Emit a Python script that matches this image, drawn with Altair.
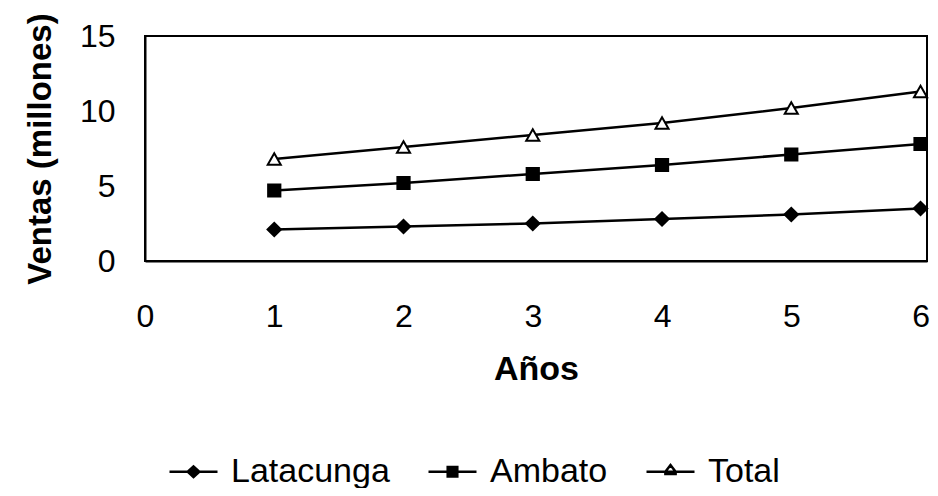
import altair as alt
import pandas as pd

years = [1, 2, 3, 4, 5, 6]
latacunga = [2.1, 2.3, 2.5, 2.8, 3.1, 3.5]
ambato = [4.7, 5.2, 5.8, 6.4, 7.1, 7.8]
total = [6.8, 7.6, 8.4, 9.2, 10.2, 11.3]
series = ["Latacunga", "Ambato", "Total"]
x_ticks = [0, 1, 2, 3, 4, 5, 6]
y_ticks = [0, 5, 10, 15]

rows = []
for name, vals in zip(series, [latacunga, ambato, total]):
    for a, v in zip(years, vals):
        rows.append({"Año": a, "Ventas": v, "Serie": name})
df = pd.DataFrame(rows)

FONT = "Liberation Sans"

x = alt.X("Año:Q", title="Años",
          scale=alt.Scale(domain=[0, 6.05], nice=False, zero=False),
          axis=alt.Axis(values=x_ticks, grid=False, ticks=False,
                        labelPadding=40, labelFontSize=32, labelFont=FONT,
                        labelColor="black", domainColor="black", domainWidth=2,
                        titleFont=FONT, titleFontSize=34, titleFontWeight="bold",
                        titlePadding=20, titleColor="black", labelFlush=False,
                        labelOverlap=False))
y = alt.Y("Ventas:Q", title="Ventas (millones)",
          scale=alt.Scale(domain=[0, 15], nice=False),
          axis=alt.Axis(values=y_ticks, grid=False, ticks=False,
                        labelPadding=30, labelFontSize=32, labelFont=FONT,
                        labelColor="black", domainColor="black", domainWidth=2,
                        titleFont=FONT, titleFontSize=33, titleFontWeight="bold",
                        titlePadding=22, titleColor="black", labelFlush=False))

lines = alt.Chart(df).mark_line(color="black", strokeWidth=2.5).encode(
    x=x, y=y, detail="Serie:N")

shape_std = {"Latacunga": ("diamond", "black", 180),
             "Ambato": ("square", "black", 150),
             "Total": ("triangle-up", "white", 170)}
point_layers = []
for name in series:
    shp, fillc, sz = shape_std[name]
    point_layers.append(
        alt.Chart(df).transform_filter(alt.datum.Serie == name)
        .mark_point(shape=shp, filled=True, fill=fillc, stroke="black",
                    strokeWidth=2, size=sz, opacity=1)
        .encode(x=x, y=y)
    )

# legend-only layer: symbols are line + marker paths
legend_paths = [
    "M-1.5,0H-0.36L0,-0.33L0.36,0H1.5M0.36,0L0,0.33L-0.36,0Z",
    "M-1.5,0H-0.3V-0.3H0.3V0H1.5M0.3,0V0.3H-0.3V0Z",
    "M-1.5,0H-0.32L0,-0.42L0.32,0H1.5M0.32,0V0.14H-0.32V0Z",
]
legend_props = dict(
    title=None, orient="none", direction="horizontal",
    legendX=31, legendY=418,
    labelFont=FONT, labelFontSize=34, labelColor="black", labelLimit=400,
    symbolSize=1024, symbolStrokeWidth=2.5, symbolOpacity=1,
    columnPadding=33, labelOffset=20, padding=0)
leg = alt.Chart(df).mark_point(filled=True, opacity=0).encode(
    x=x, y=y,
    shape=alt.Shape("Serie:N", sort=series,
                    scale=alt.Scale(domain=series, range=legend_paths),
                    legend=alt.Legend(**legend_props)),
    fill=alt.Fill("Serie:N", sort=series,
                  scale=alt.Scale(domain=series, range=["black", "black", "white"]),
                  legend=alt.Legend(**legend_props)),
    stroke=alt.Stroke("Serie:N", sort=series,
                      scale=alt.Scale(domain=series, range=["black", "black", "black"]),
                      legend=alt.Legend(**legend_props)),
)

chart = alt.layer(lines, *point_layers, leg).properties(
    width=782, height=225,
    autosize=alt.AutoSizeParams(type="none"),
    padding={"left": 137, "top": 28, "right": 3, "bottom": 227},
    background="white",
).configure_view(stroke="black", strokeWidth=2)

chart.save("out.html", embed_options={"renderer": "svg", "actions": False})
